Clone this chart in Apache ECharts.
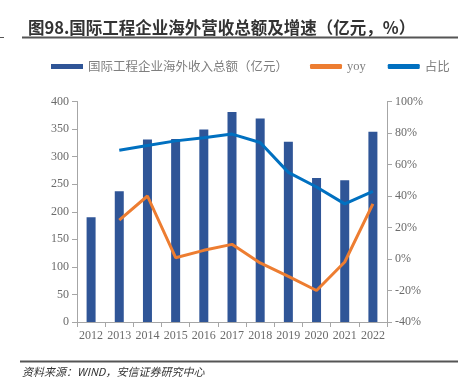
<!DOCTYPE html>
<html><head><meta charset="utf-8">
<script src="https://cdn.jsdelivr.net/npm/echarts@6/dist/echarts.min.js"></script>
<style>html,body{margin:0;padding:0;background:#fff}#c{width:458px;height:392px}</style>
</head><body><div id="c"></div>
<script>
const categories = ['2012','2013','2014','2015','2016','2017','2018','2019','2020','2021','2022'];
const revenue = [190, 237, 331, 332, 349, 381, 369, 327, 261, 257, 345];
const yoy = [null, 24.7, 40, 0.8, 5.5, 9.3, -2.5, -11, -20, -1.9, 35];
const share = [null, 69, 72, 75, 77, 79.3, 74, 55, 45.7, 35, 43];
const leftTicks = [0, 400, 50];
const rightTicks = [-40, 100, 20];

const chart = echarts.init(document.getElementById('c'));
const axisFont = {fontFamily: 'Liberation Serif', fontSize: 12, color: '#6b6b6b'};
chart.setOption({
  animation: false,
  title: {
    text: '图98.国际工程企业海外营收总额及增速（亿元，%）',
    left: 23, top: 14,
    textStyle: {fontSize: 16.5, fontWeight: 'bold', color: '#333', fontFamily: 'Noto Sans CJK SC'}
  },
  graphic: [
    {type: 'line', shape: {x1: 22, y1: 37.5, x2: 458, y2: 37.5}, style: {stroke: '#555', lineWidth: 2}},
    {type: 'line', shape: {x1: 0, y1: 37.5, x2: 4, y2: 37.5}, style: {stroke: '#555', lineWidth: 1}},
    {type: 'line', shape: {x1: 20, y1: 361.5, x2: 458, y2: 361.5}, style: {stroke: '#555', lineWidth: 2}},
    {type: 'text', left: 22, top: 366, style: {text: '资料来源：WIND，安信证券研究中心', fontSize: 11, fontStyle: 'italic', fill: '#333', fontFamily: 'Noto Sans CJK SC'}}
  ],
  legend: {
    top: 55, left: 46, itemGap: 22, itemWidth: 32, itemHeight: 5,
    textStyle: {fontSize: 12.5, color: '#7f7f7f', fontFamily: 'Noto Sans CJK SC'},
    data: [
      {name: '国际工程企业海外收入总额（亿元）', icon: 'rect'},
      {name: 'yoy', icon: 'roundRect', textStyle: {fontFamily: 'Liberation Serif'}},
      {name: '占比', icon: 'roundRect'}
    ]
  },
  grid: {left: 77, right: 71, top: 101.5, bottom: 70},
  xAxis: {
    type: 'category', data: categories,
    axisLine: {lineStyle: {color: '#a6a6a6'}},
    axisTick: {show: true, alignWithLabel: false, lineStyle: {color: '#a6a6a6'}},
    axisLabel: Object.assign({margin: 8, interval: 0}, axisFont)
  },
  yAxis: [
    {type: 'value', min: leftTicks[0], max: leftTicks[1], interval: leftTicks[2],
     axisLine: {show: true, lineStyle: {color: '#a6a6a6'}},
     axisTick: {show: true, lineStyle: {color: '#a6a6a6'}},
     splitLine: {show: false},
     axisLabel: axisFont},
    {type: 'value', min: rightTicks[0], max: rightTicks[1], interval: rightTicks[2],
     axisLine: {show: true, lineStyle: {color: '#a6a6a6'}},
     axisTick: {show: true, lineStyle: {color: '#a6a6a6'}},
     splitLine: {show: false},
     axisLabel: Object.assign({formatter: '{value}%'}, axisFont)}
  ],
  series: [
    {name: '国际工程企业海外收入总额（亿元）', type: 'bar', data: revenue, barWidth: 9,
     itemStyle: {color: '#2F5597'}},
    {name: 'yoy', type: 'line', yAxisIndex: 1, data: yoy, symbol: 'none',
     lineStyle: {color: '#ED7D31', width: 3}, itemStyle: {color: '#ED7D31'}},
    {name: '占比', type: 'line', yAxisIndex: 1, data: share, symbol: 'none',
     lineStyle: {color: '#0070C0', width: 3}, itemStyle: {color: '#0070C0'}}
  ]
});
</script></body></html>
